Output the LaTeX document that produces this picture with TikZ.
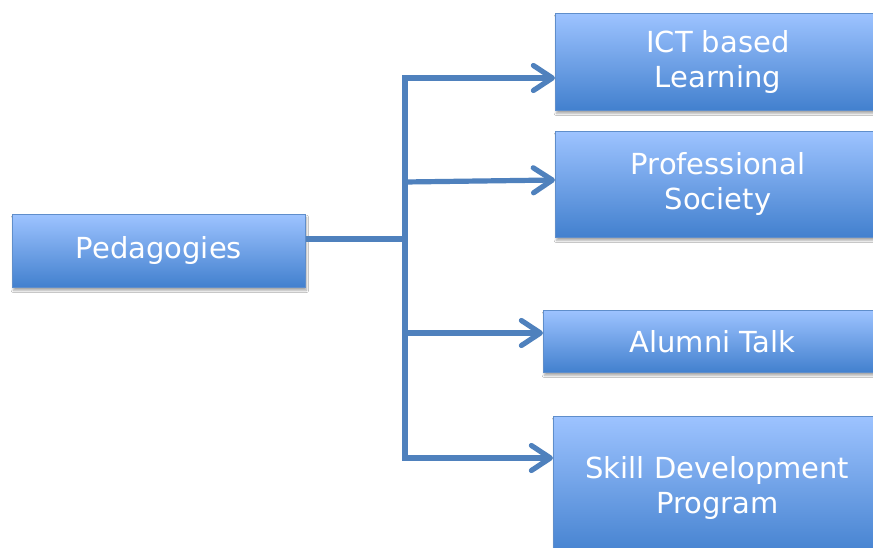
\documentclass[tikz,border=0pt]{standalone}
\usepackage{fontspec}
\setmainfont{DejaVu Sans}
\usetikzlibrary{arrows.meta,shadows.blur}
\definecolor{boxtop}{RGB}{157,195,255}
\definecolor{boxbot}{RGB}{66,128,206}
\definecolor{boxline}{RGB}{95,142,203}
\definecolor{connc}{RGB}{79,129,189}
\begin{document}
\begin{tikzpicture}[x=1pt,y=-1pt,
  box/.style={draw=boxline, line width=0.8pt, top color=boxtop, bottom color=boxbot,
    text=white, font=\fontsize{29}{35}\selectfont, align=center, inner sep=0pt,
    anchor=north west,
    blur shadow={shadow xshift=1pt, shadow yshift=-3pt, shadow blur steps=6, shadow opacity=35}},
  conn/.style={draw=connc, line width=5.2pt},
  tipend/.style={-{Straight Barb[length=19pt,width=25pt,round]}},
  bothends/.style={{Straight Barb[length=19pt,width=25pt,round]}-{Straight Barb[length=19pt,width=25pt,round]}}]
\useasboundingbox (0,0) rectangle (873,548);
\clip (0,0) rectangle (873,548);
\fill[white] (0,0) rectangle (873,548);

\node[box, minimum width=293pt, minimum height=73pt] (ped) at (12,214) {\raisebox{-3pt}{Pedagogies}};
\node[box, minimum width=325pt, minimum height=97pt] (ict) at (555,13) {ICT based\\Learning};
\node[box, minimum width=325pt, minimum height=106pt] (prof) at (555,131) {Professional\\Society};
\node[box, minimum width=338pt, minimum height=62pt] (alum) at (543,310) {Alumni Talk};
\node[box, minimum width=328pt, minimum height=143pt] (skill) at (553,416) {Skill Development\\Program};

\coordinate (j) at (405,239);
\coordinate (t1) at (405,78);
\coordinate (t2) at (405,182);
\coordinate (p2) at (553,180);
\coordinate (t3) at (405,333);
\coordinate (t4) at (405,458);

\draw[conn] (ped.east |- j) -- (j);
\draw[conn, bothends] (ict.west |- t1) -- (t1) -- (t4) -- (skill.west |- t4);
\draw[conn, tipend] (t2) -- (prof.west |- p2);
\draw[conn, tipend] (t3) -- (t3 -| alum.west);
\end{tikzpicture}
\end{document}
